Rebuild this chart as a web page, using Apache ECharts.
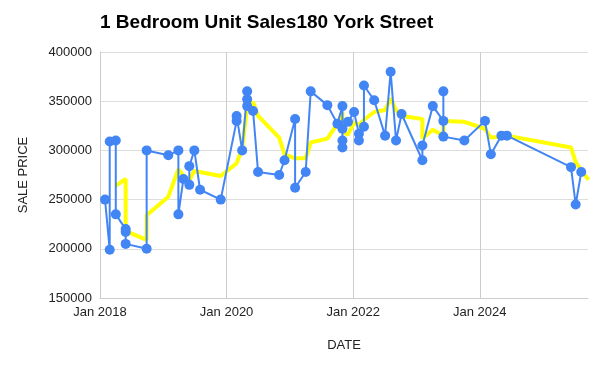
<!DOCTYPE html>
<html><head><meta charset="utf-8">
<script src="https://cdn.jsdelivr.net/npm/echarts@6/dist/echarts.min.js"></script>
<style>html,body{margin:0;padding:0;background:#fff}#c{width:601px;height:366px}</style>
</head><body><div id="c"></div>
<script>
const chartTitle = '1 Bedroom Unit Sales180 York Street';
const saleDates = [
 '2018-01-30','2018-02-26','2018-02-26','2018-04-02','2018-04-02','2018-05-29','2018-05-29','2018-05-29',
 '2018-09-27','2018-09-27','2019-01-30','2019-03-29','2019-03-29','2019-04-27','2019-05-31','2019-05-31',
 '2019-06-29','2019-08-01','2019-11-28','2020-02-28','2020-02-28','2020-03-31','2020-04-29','2020-04-29',
 '2020-04-29','2020-06-02','2020-07-01','2020-10-31','2020-12-01','2021-01-31','2021-01-31','2021-04-02',
 '2021-05-01','2021-08-05','2021-10-02','2021-10-31','2021-10-31','2021-10-31','2021-10-31','2021-12-02',
 '2022-01-06','2022-02-03','2022-02-03','2022-03-04','2022-03-04','2022-05-02','2022-07-04','2022-08-05',
 '2022-09-05','2022-10-07','2023-02-04','2023-02-04','2023-04-05','2023-06-05','2023-06-05','2023-06-05',
 '2023-10-04','2024-01-31','2024-03-05','2024-05-05','2024-06-06','2025-06-11','2025-07-08','2025-08-09'
];
const salePrices = [
 250000,199000,309000,310000,235000,220000,217000,205000,
 200000,300000,295000,300000,235000,271000,265000,284000,
 300000,260000,250000,330000,335000,300000,360000,352000,
 345000,340000,278000,275000,290000,332000,262000,278000,
 360000,346000,327000,345000,303000,310000,322000,329000,
 339000,317000,310000,324000,366000,351000,315000,380000,
 310000,337000,290000,305000,345000,330000,360000,314000,
 310000,330000,296000,315000,315000,283000,245000,278000
];
const trendDates = [
 '2018-04-02','2018-05-29','2018-05-29','2018-09-27','2018-09-27','2019-01-30','2019-03-29','2019-04-27',
 '2019-05-31','2019-06-29','2019-11-28','2020-02-28','2020-03-31','2020-04-29','2020-06-02','2020-07-01',
 '2020-10-31','2020-12-01','2021-01-31','2021-04-02','2021-05-01','2021-08-05','2021-10-02','2021-10-31',
 '2021-10-31','2021-12-02','2022-01-06','2022-02-03','2022-03-04','2022-05-02','2022-07-04','2022-08-05',
 '2022-09-05','2022-10-07','2023-02-04','2023-02-04','2023-04-05','2023-06-05','2023-06-05','2023-10-04',
 '2024-01-31','2024-03-05','2024-05-05','2024-06-06','2025-06-11','2025-07-08','2025-08-09','2025-09-20'
];
const trendValues = [
 264000,271000,218000,209000,234000,253000,281000,274000,
 270000,279000,274000,287000,302000,345000,349000,335000,
 313000,296000,292000,292000,308000,312000,327000,339000,
 319000,316000,328000,326000,331000,339000,341000,353000,
 341000,335000,332000,312000,321000,315000,330000,329000,
 322000,313000,314000,315000,303000,288000,280000,270000
];
const xStartDate = '2018-01-01';
const xEndDate = '2025-09-17';
const yMin = 150000, yMax = 400000, yStep = 50000;

function toYear(s){
  const d = new Date(s + 'T00:00:00Z');
  const y = d.getUTCFullYear();
  const a = Date.UTC(y,0,1), b = Date.UTC(y+1,0,1);
  return y + (d.getTime()-a)/(b-a);
}
const FONT = 'Arial, "Liberation Sans", sans-serif';
const chart = echarts.init(document.getElementById('c'));
chart.setOption({
  animation:false,
  backgroundColor:'#fff',
  title:{text:chartTitle,left:95,top:8,textStyle:{fontFamily:FONT,fontSize:19,fontWeight:'bold',color:'#000'}},
  grid:{left:100,right:13,top:52,bottom:68,containLabel:false,outerBoundsMode:'none'},
  xAxis:{type:'value',min:toYear(xStartDate),max:toYear(xEndDate),interval:2,
    name:'DATE',nameLocation:'middle',nameGap:41,
    nameTextStyle:{fontFamily:FONT,fontSize:13,color:'#222'},
    axisLine:{show:true,lineStyle:{color:'#ccc'}},axisTick:{show:false},
    axisLabel:{fontFamily:FONT,fontSize:13,color:'#222',margin:8,showMaxLabel:false,
      formatter:v=>'Jan '+Math.round(v)},
    splitLine:{show:true,showMaxLine:false,lineStyle:{color:'#ccc',width:1}}},
  yAxis:{type:'value',min:yMin,max:yMax,interval:yStep,
    name:'SALE PRICE',nameLocation:'middle',nameGap:70,
    nameTextStyle:{fontFamily:FONT,fontSize:13,color:'#222'},
    axisLine:{show:true,lineStyle:{color:'#ccc'}},axisTick:{show:false},
    axisLabel:{fontFamily:FONT,fontSize:13,color:'#222',margin:8,formatter:v=>String(v)},
    splitLine:{show:true,lineStyle:{color:'#ddd',width:1}}},
  series:[
    {type:'line',data:trendDates.map((d,i)=>[toYear(d),trendValues[i]]),
     showSymbol:false,symbol:'none',lineStyle:{color:'#ffff00',width:4},z:2},
    {type:'line',data:saleDates.map((d,i)=>[toYear(d),salePrices[i]]),
     symbol:'circle',symbolSize:10,itemStyle:{color:'#4285f4'},
     lineStyle:{color:'#4285f4',width:2},z:3}
  ]
});
</script></body></html>
